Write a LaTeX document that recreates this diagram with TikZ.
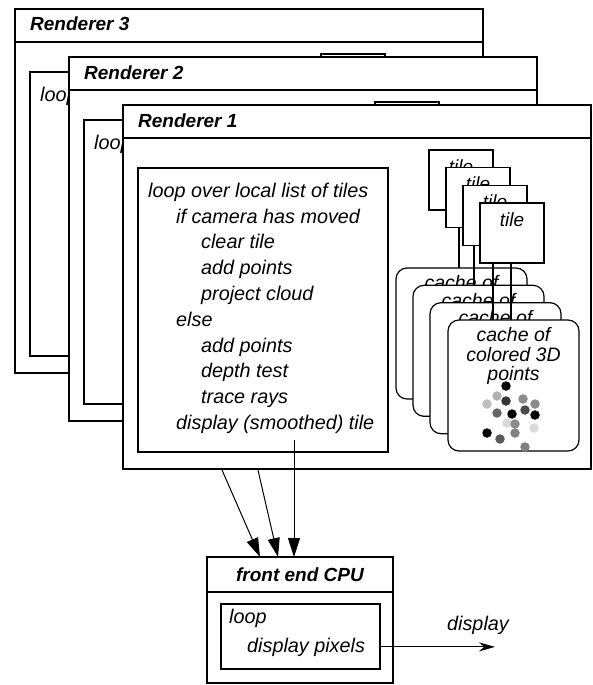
\documentclass[tikz,border=0pt]{standalone}
\usepackage{fontspec}
\setmainfont{Liberation Sans}
\usetikzlibrary{arrows.meta}
\newif\iffullrend
\tikzset{
  x=1pt,y=-1pt,
  frame/.style={draw,line width=1.5pt,fill=white,rectangle,inner sep=0pt,outer sep=0pt,anchor=north west},
  box/.style={draw,line width=1.1pt,fill=white,rectangle,inner sep=0pt,outer sep=0pt,anchor=north west},
  hdr/.style={line width=1.2pt},
  title/.style={anchor=base west,inner sep=0pt,font=\bfseries\itshape\fontsize{19}{19}\selectfont},
  codeline/.style={anchor=base west,inner sep=0pt,font=\itshape\fontsize{19.8}{19.8}\selectfont},
  codeblock/.style={anchor=north west,inner sep=0pt,align=left,font=\itshape\fontsize{19.8}{25.8}\selectfont},
  tilebox/.style={draw,line width=1.2pt,fill=white,rectangle,inner sep=0pt,outer sep=0pt,anchor=north west,minimum width=64pt,minimum height=60pt},
  tiletext/.style={anchor=base,inner sep=0pt,font=\itshape\fontsize{19}{19}\selectfont},
  cachebox/.style={draw,line width=1.2pt,fill=white,rectangle,rounded corners=11pt,inner sep=0pt,outer sep=0pt,anchor=north west,minimum width=131pt,minimum height=131pt},
  cachetext/.style={anchor=north,inner sep=0pt,align=center,font=\itshape\fontsize{19.5}{19.5}\selectfont},
  link/.style={line width=1.1pt},
  flow/.style={line width=1pt,-{Triangle[length=19pt,width=12pt]}},
  outflow/.style={line width=1pt,-{Stealth[length=16pt,width=9pt]}},
  dot/.style={circle,inner sep=0pt,minimum size=9.5pt,fill=#1}
}
\newcommand\Rend[4]{%
\begin{scope}[shift={(#2,#3)}]
  \node[frame,minimum width=468pt,minimum height=364pt] (#1frame) at (123,105) {};
  \draw[hdr] ([yshift=-33pt]#1frame.north west) -- ([yshift=-33pt]#1frame.north east);
  \node[title] (#1title) at (138,127) {Renderer #4};
  \node[box,minimum width=250pt,minimum height=284pt] (#1loop) at (138,168) {};
  \iffullrend
  \node[codeblock] (#1code) at (148,182.8) {loop over local list of tiles\\
    \hspace*{28pt}if camera has moved\\
    \hspace*{53pt}clear tile\\
    \hspace*{53pt}add points\\
    \hspace*{53pt}project cloud\\
    \hspace*{28pt}else\\
    \hspace*{53pt}add points\\
    \hspace*{53pt}depth test\\
    \hspace*{53pt}trace rays\\
    \hspace*{28pt}display (smoothed) tile};
  \else
  \node[codeblock] (#1code) at (148,182.8) {loop};
  \fi
  \coordinate (#1src) at (294,440);
  \node[tilebox] (#1t1) at (429,150) {};
  \iffullrend\node[tiletext] (#1tt1) at ([yshift=-23pt]#1t1.north) {tile};\fi
  \node[tilebox] (#1t2) at (446,167.7) {};
  \iffullrend\node[tiletext] (#1tt2) at ([yshift=-23pt]#1t2.north) {tile};\fi
  \node[tilebox] (#1t3) at (463,185.3) {};
  \iffullrend\node[tiletext] (#1tt3) at ([yshift=-23pt]#1t3.north) {tile};\fi
  \node[tilebox] (#1t4) at (480,203) {};
  \iffullrend\node[tiletext] (#1tt4) at ([yshift=-23pt]#1t4.north) {tile};\fi
  \node[cachebox] (#1c1) at (396,268) {};
  \iffullrend\node[cachetext] (#1ct1) at ([yshift=-7.5pt]#1c1.north) {cache of};\fi
  \node[cachebox] (#1c2) at (413,285.3) {};
  \iffullrend\node[cachetext] (#1ct2) at ([yshift=-7.5pt]#1c2.north) {cache of};\fi
  \node[cachebox] (#1c3) at (430,302.7) {};
  \iffullrend\node[cachetext] (#1ct3) at ([yshift=-7.5pt]#1c3.north) {cache of};\fi
  \node[cachebox] (#1c4) at (448,320) {};
  \iffullrend
  \node[cachetext] (#1ct4) at ([yshift=-7.5pt]#1c4.north) {cache of\\colored 3D\\points};
  \begin{scope}[shift={(448,320)}]
    \node[dot=black] (#1d1) at (58,66) {};
    \node[dot=black!30] (#1d2) at (49,76) {};
    \node[dot=black!80] (#1d3) at (58,81) {};
    \node[dot=black!45] (#1d4) at (75,79) {};
    \node[dot=black!25] (#1d5) at (39,84) {};
    \node[dot=black!45] (#1d6) at (87,84) {};
    \node[dot=black!70] (#1d7) at (77,90) {};
    \node[dot=black!60] (#1d8) at (49,93) {};
    \node[dot=black] (#1d9) at (64,94) {};
    \node[dot=black] (#1d10) at (87,95) {};
    \node[dot=black!15] (#1d11) at (59,103) {};
    \node[dot=black!45] (#1d12) at (67,104) {};
    \node[dot=black!15] (#1d13) at (86,108) {};
    \node[dot=black] (#1d14) at (39,113) {};
    \node[dot=black!65] (#1d15) at (52,119) {};
    \node[dot=black!50] (#1d16) at (67,113) {};
    \node[dot=black!50] (#1d17) at (77,127) {};
  \end{scope}
  \fi
  \draw[link] ([xshift=13pt]#1t2.south west) -- ([xshift=13pt]#1t2.south west |- #1c1.north);
  \draw[link] ([xshift=11pt]#1t3.south west) -- ([xshift=11pt]#1t3.south west |- #1c2.north);
  \draw[link] ([xshift=13pt]#1t4.south west) -- ([xshift=13pt]#1t4.south west |- #1c4.north);
  \draw[link] ([xshift=31pt]#1t4.south west) -- ([xshift=31pt]#1t4.south west |- #1c4.north);
\end{scope}}
\begin{document}
\begin{tikzpicture}
\useasboundingbox (0,0) rectangle (592,685);
% front end CPU
\node[frame,minimum width=186pt,minimum height=126pt] (cpu) at (207,557) {};
\draw[hdr] ([yshift=-35pt]cpu.north west) -- ([yshift=-35pt]cpu.north east);
\node[title,anchor=base] (cputitle) at (300,581) {front end CPU};
\node[box,minimum width=159pt,minimum height=65pt] (cpuin) at (221,604) {};
\node[codeline] (cpuloop) at (229,623) {loop};
\node[codeline] (cpudisp) at (247,652) {display pixels};
\coordinate (dispend) at (495,648);
\draw[outflow] (cpudisp.center -| cpuin.east) -- (cpudisp.center -| dispend);
\node[codeline,anchor=base] (displabel) at (478,630) {display};
\coordinate (in1) at (294,557);
\coordinate (in2) at (278,557);
\coordinate (in3) at (260,557);
% renderers
\fullrendfalse
\Rend{r3}{-108}{-96}{3}
\coordinate (src3) at (167,344);
\draw[flow] (src3) -- (in3);
\Rend{r2}{-54}{-48}{2}
\draw[flow] (r2src) -- (in2);
\fullrendtrue
\Rend{r1}{0}{0}{1}
\draw[flow] (r1src) -- (in1);
\end{tikzpicture}
\end{document}
